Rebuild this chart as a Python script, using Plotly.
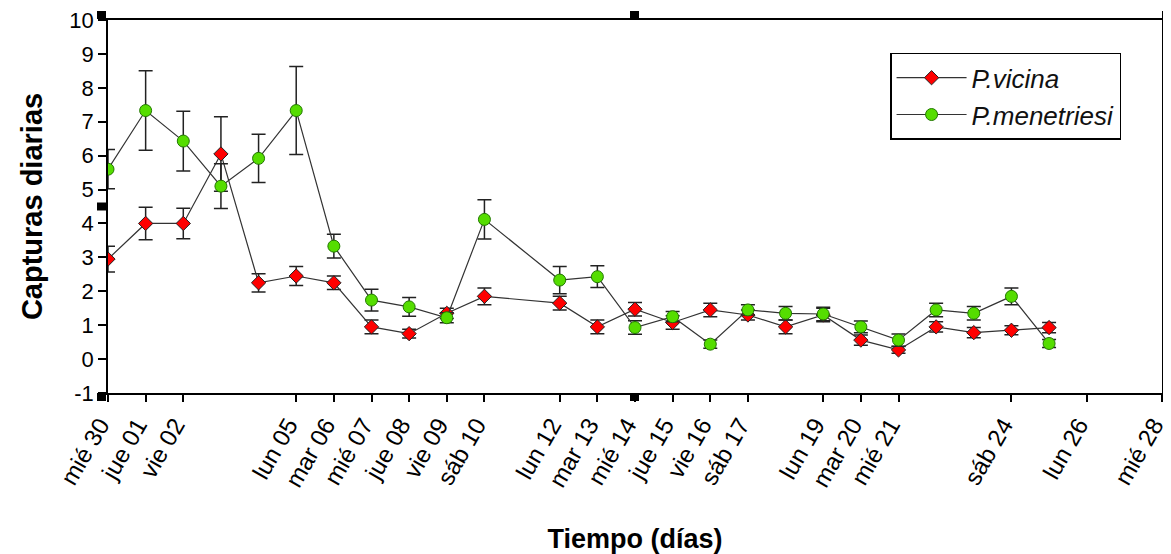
import plotly.graph_objects as go

# Day offsets (0 = mié 30)
days = [0, 1, 2, 3, 4, 5, 6, 7, 8, 9, 10, 12, 13, 14, 15, 16, 17, 18, 19, 20, 21, 22, 23, 24, 25]

vicina = [2.95, 4.0, 4.0, 6.05, 2.25, 2.45, 2.25, 0.95, 0.75, 1.35, 1.85, 1.65, 0.95, 1.47,
          1.08, 1.45, 1.3, 0.95, 1.3, 0.56, 0.27, 0.95, 0.78, 0.85, 0.93]
vicina_err = [0.38, 0.48, 0.45, 1.1, 0.27, 0.28, 0.2, 0.2, 0.13, 0.15, 0.25, 0.2, 0.2, 0.2,
              0.2, 0.2, 0.15, 0.2, 0.2, 0.15, 0.1, 0.15, 0.15, 0.13, 0.15]

menetriesi = [5.6, 7.33, 6.43, 5.1, 5.92, 7.33, 3.33, 1.74, 1.54, 1.22, 4.12, 2.33, 2.43, 0.93,
              1.25, 0.44, 1.45, 1.35, 1.33, 0.95, 0.56, 1.45, 1.35, 1.85, 0.46]
menetriesi_err = [0.58, 1.17, 0.88, 0.66, 0.71, 1.3, 0.35, 0.32, 0.28, 0.15, 0.58, 0.4, 0.32, 0.2,
                  0.15, 0.12, 0.15, 0.2, 0.2, 0.17, 0.18, 0.2, 0.2, 0.25, 0.12]

tick_days = [0, 1, 2, 5, 6, 7, 8, 9, 10, 12, 13, 14, 15, 16, 17, 19, 20, 21, 24, 26, 28]
tick_labels = ["mié 30", "jue 01", "vie 02", "lun 05", "mar 06", "mié 07", "jue 08", "vie 09",
               "sáb 10", "lun 12", "mar 13", "mié 14", "jue 15", "vie 16", "sáb 17", "lun 19",
               "mar 20", "mié 21", "sáb 24", "lun 26", "mié 28"]

y_tick_vals = [-1, 0, 1, 2, 3, 4, 5, 6, 7, 8, 9, 10]
y_tick_labels = ["-1", "0", "1", "2", "3", "4", "5", "6", "7", "8", "9", "10"]

FONT = "Liberation Sans, Arial, sans-serif"

fig = go.Figure()
fig.add_trace(go.Scatter(
    x=days, y=vicina, name="<i>P.vicina</i>", mode="lines+markers",
    line=dict(color="#333333", width=1.2),
    marker=dict(symbol="diamond", size=11, color="#ff0000", line=dict(color="#222222", width=1)),
    error_y=dict(type="data", array=vicina_err, color="#222222", thickness=1.5, width=7),
))
fig.add_trace(go.Scatter(
    x=days, y=menetriesi, name="<i>P.menetriesi</i>", mode="lines+markers",
    line=dict(color="#333333", width=1.2),
    marker=dict(symbol="circle", size=12, color="#55dd00", line=dict(color="#227700", width=1)),
    error_y=dict(type="data", array=menetriesi_err, color="#222222", thickness=1.5, width=7),
))

# decorative frame squares (SigmaPlot handles)
shapes = []
for (xa, ya, dx, dy) in [(0, 1, -1, 1), (0, 0.5, -1, 0), (0, 0, -1, -1), (0.5, 1, 0, 1),
                         (1, 1, 1, 1), (1, 0.5, 1, 0), (1, 0, 1, -1), (0.5, 0, 0, -1)]:
    cx = {-1: -6, 0: 0, 1: 5}[dx]
    cy = {-1: -4, 0: 0, 1: 5}[dy]
    shapes.append(dict(type="rect", xref="x domain", yref="y domain",
                       xsizemode="pixel", ysizemode="pixel", xanchor=xa, yanchor=ya,
                       x0=cx - 5, x1=cx + 4, y0=cy - 4, y1=cy + 4,
                       fillcolor="black", line=dict(width=0)))

fig.update_layout(
    width=1163, height=546,
    margin=dict(l=100, r=9, t=12, b=161),
    paper_bgcolor="white", plot_bgcolor="white",
    font=dict(family=FONT, color="black", size=18),
    showlegend=True,
    legend=dict(x=0.742, y=0.912, xanchor="left", yanchor="top",
                bordercolor="black", borderwidth=1.5, bgcolor="white",
                font=dict(size=26, family=FONT, color="#111111"),
                tracegroupgap=0, itemwidth=70),
    shapes=shapes,
    xaxis=dict(range=[0, 28], tickmode="array", tickvals=tick_days, ticktext=tick_labels,
               tickangle=-60, ticks="outside", ticklen=7, tickwidth=1.5, tickcolor="black",
               ticklabeloverflow="allow", ticklabelshift=-8,
               showline=True, linecolor="black", linewidth=1.5, mirror=True, automargin=False,
               showgrid=False, zeroline=False, tickfont=dict(size=24),
               title=dict(text="<b>Tiempo (días)</b>", font=dict(size=27), standoff=38)),
    yaxis=dict(range=[-1, 10], tickmode="array", tickvals=y_tick_vals, ticktext=y_tick_labels,
               ticks="outside", ticklen=8, tickwidth=1.5, tickcolor="black",
               ticklabeloverflow="allow",
               showline=True, linecolor="black", linewidth=1.5, mirror=True, automargin=False,
               showgrid=False, zeroline=False, tickfont=dict(size=22),
               title=dict(text="<b>Capturas diarias</b>", font=dict(size=29), standoff=18)),
)

fig.write_html("out.html")
